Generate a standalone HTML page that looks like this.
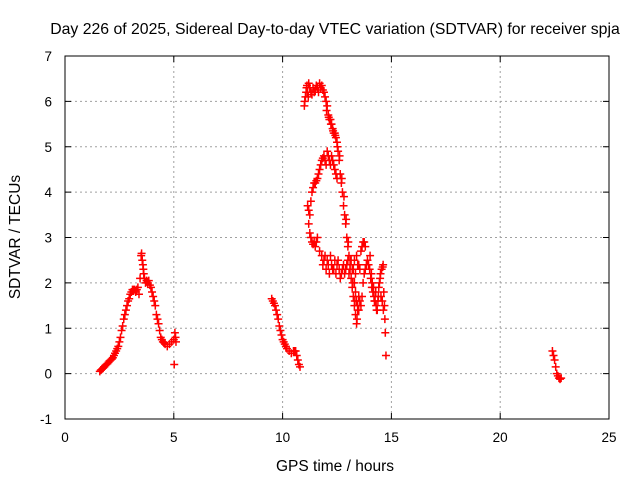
<!DOCTYPE html>
<html><head><meta charset="utf-8"><style>
body{margin:0;background:#fff}
svg{display:block;font-family:"Liberation Sans",sans-serif}
</style></head><body>
<svg id="chart" width="640" height="480" viewBox="0 0 640 480">
<text x="335" y="34" font-size="15.8" text-anchor="middle">Day 226 of 2025, Sidereal Day-to-day VTEC variation (SDTVAR) for receiver spja</text>
<text x="335" y="471" font-size="15.5" text-anchor="middle">GPS time / hours</text>
<text transform="translate(20,237) rotate(-90)" font-size="15.5" text-anchor="middle">SDTVAR / TECUs</text>
<g id="grid"></g><g id="marks"></g>
<rect x="65" y="56" width="544" height="363" fill="none" stroke="#000" stroke-width="1"/>
</svg>
<script>
const xTicks=[0,5,10,15,20,25];
const yTicks=[-1,0,1,2,3,4,5,6,7];
const s1x=[1.6,1.65,1.7,1.75,1.8,1.85,1.9,1.95,2.0,2.05,2.1,2.15,2.2,2.25,2.3,2.35,2.4,2.45,2.5,2.55,2.6,2.65,2.7,2.75,2.8,2.85,2.9,2.95,3.0,3.05,3.1,3.15,3.2,3.25,3.3,3.35,3.4,3.45,3.5,3.52,3.55,3.58,3.6,3.62,3.65,3.7,3.75,3.8,3.85,3.9,3.95,4.0,4.05,4.1,4.15,4.2,4.25,4.3,4.35,4.4,4.45,4.5,4.55,4.6,4.7,4.8,4.9,5.0,5.02,5.05,5.08,5.1];
const s1y=[0.05,0.08,0.1,0.12,0.15,0.18,0.2,0.22,0.25,0.28,0.3,0.32,0.35,0.4,0.45,0.5,0.55,0.6,0.7,0.8,0.95,1.05,1.2,1.3,1.4,1.5,1.6,1.65,1.75,1.8,1.85,1.85,1.85,1.8,1.85,1.9,1.75,2.1,2.6,2.65,2.5,2.4,2.3,2.2,2.1,2.0,2.05,2.0,2.05,1.95,1.9,1.8,1.7,1.6,1.5,1.3,1.2,1.1,0.95,0.8,0.75,0.7,0.68,0.65,0.6,0.65,0.7,0.75,0.2,0.9,0.8,0.7];
const s2x=[9.5,9.55,9.6,9.65,9.7,9.75,9.8,9.85,9.9,9.95,10.0,10.05,10.1,10.15,10.2,10.3,10.4,10.5,10.55,10.6,10.65,10.7,10.75,10.8];
const s2y=[1.65,1.6,1.55,1.5,1.4,1.3,1.2,1.05,0.95,0.85,0.75,0.7,0.65,0.6,0.55,0.5,0.45,0.5,0.5,0.5,0.4,0.3,0.2,0.15];
const s3x=[11.0,11.05,11.1,11.15,11.2,11.3,11.4,11.5,11.6,11.7,11.8,11.9,12.0,12.05,12.1,12.15,12.2,12.25,12.3,12.35,12.4,12.45,12.5,12.55,12.6,12.65,12.7,12.75,12.8,12.85,12.9,12.95,13.0,13.05,13.1,13.15,13.2,13.25,13.3,13.35,13.4,13.45,13.5];
const s3y=[5.9,6.1,6.3,6.2,6.4,6.2,6.3,6.25,6.3,6.4,6.35,6.2,6.0,5.9,5.7,5.6,5.6,5.5,5.4,5.3,5.3,5.2,5.1,4.9,4.7,4.4,4.2,4.0,3.7,3.5,3.3,3.0,2.8,2.6,2.3,2.1,1.9,1.7,1.5,1.3,1.1,1.4,1.7];
const s3bx=[11.02,11.08,11.12,11.18,11.25,11.35,11.45,11.55,11.65,11.75,11.85,11.95,12.02,12.12,12.22,12.32,12.42,12.52,12.62,12.72,12.82,12.92,13.02,13.12,13.22,13.32,13.42];
const s3by=[6.0,6.2,6.35,6.1,6.3,6.15,6.2,6.35,6.2,6.3,6.25,6.1,5.8,5.65,5.5,5.35,5.25,5.0,4.8,4.3,3.9,3.4,2.9,2.5,2.0,1.6,1.2];
const s4x=[11.15,11.2,11.25,11.3,11.35,11.4,11.45,11.5,11.55,11.6,11.65,11.7,11.75,11.8,11.85,11.9,11.95,12.0,12.05,12.1,12.15,12.2,12.25,12.3,12.35,12.4,12.45,12.5];
const s4y=[3.7,3.6,3.5,3.8,4.0,4.1,4.2,4.2,4.25,4.3,4.4,4.5,4.6,4.7,4.75,4.8,4.7,4.6,4.9,4.8,4.7,4.6,4.8,4.7,4.6,4.5,4.4,4.3];
const s5x=[11.2,11.25,11.3,11.35,11.4,11.45,11.5,11.55,11.6,11.7,11.8,11.9,12.0,12.1,12.2,12.3,12.4,12.5,12.6,12.7,12.8,12.9,13.0,13.1,13.2,13.3,13.4,13.5,13.6,13.65,13.7,13.75,13.8];
const s5y=[3.3,3.1,3.0,2.9,2.85,2.9,2.8,2.9,3.0,2.7,2.6,2.5,2.3,2.4,2.6,2.3,2.5,2.4,2.3,2.2,2.4,2.3,2.5,2.4,2.3,2.5,2.6,2.4,2.7,2.8,2.9,2.9,2.8];
const s5bx=[11.85,11.95,12.05,12.15,12.25,12.35,12.45,12.55,12.65,12.75,12.85,12.95,13.05,13.15,13.25,13.35,13.45,13.55];
const s5by=[2.4,2.6,2.5,2.2,2.4,2.3,2.2,2.5,2.1,2.3,2.2,2.4,2.2,2.5,2.3,2.2,2.4,2.3];
const s6x=[13.3,13.35,13.4,13.45,13.5,13.55,13.6,13.65,13.7,13.75,13.8,13.85,13.9,13.95,14.0,14.05,14.1,14.15,14.2,14.25,14.3,14.35,14.4,14.45,14.5,14.55,14.6,14.62,14.65,14.68,14.7,14.72,14.75];
const s6y=[2.0,1.8,1.6,1.5,1.4,1.6,1.5,1.7,2.0,2.2,2.3,2.4,2.5,2.4,2.3,2.1,1.9,1.8,1.7,1.6,1.5,1.4,1.7,2.0,2.2,2.3,2.35,2.4,1.8,1.5,1.2,0.9,0.4];
const s6bx=[14.02,14.08,14.12,14.18,14.22,14.28,14.32,14.38,14.42,14.48,14.52,14.58,14.63];
const s6by=[2.6,2.2,2.0,1.9,1.6,1.8,1.4,1.6,1.9,2.1,1.7,1.6,1.4];
const s7x=[22.4,22.45,22.5,22.55,22.6,22.65,22.7,22.75,22.8];
const s7y=[0.5,0.4,0.3,0.15,0.0,-0.05,-0.1,-0.12,-0.1];
const seriesX=[s1x,s2x,s3x,s3bx,s4x,s5x,s5bx,s6x,s6bx,s7x];
const seriesY=[s1y,s2y,s3y,s3by,s4y,s5y,s5by,s6y,s6by,s7y];
const L=65,R=609,T=56,B=419;
const sx=v=>L+(v-0)/(25-0)*(R-L);
const sy=v=>B-(v+1)/(7+1)*(B-T);
const NS="http://www.w3.org/2000/svg";
const grid=document.getElementById('grid'),marks=document.getElementById('marks');
function mk(tag,a,p){const e=document.createElementNS(NS,tag);for(const k in a)e.setAttribute(k,a[k]);p.appendChild(e);return e;}
xTicks.forEach(t=>{const x=sx(t);
 if(t>0&&t<25){const g=mk('line',{x1:x,x2:x,y1:T,y2:B,stroke:'#a0a0a0','stroke-dasharray':'2,3'},grid);
 
 }
 mk('line',{x1:x,x2:x,y1:B,y2:B-6,stroke:'#000'},grid);mk('line',{x1:x,x2:x,y1:T,y2:T+6,stroke:'#000'},grid);
 const tx=mk('text',{x:x,y:B+23,'font-size':13.5,'text-anchor':'middle'},grid);tx.textContent=t;
 
 });
yTicks.forEach(t=>{const y=sy(t);
 if(t>-1&&t<7){const g=mk('line',{x1:L,x2:R,y1:y,y2:y,stroke:'#a0a0a0','stroke-dasharray':'2,3'},grid);
 
 }
 mk('line',{x1:L,x2:L+6,y1:y,y2:y,stroke:'#000'},grid);mk('line',{x1:R,x2:R-6,y1:y,y2:y,stroke:'#000'},grid);
 const tx=mk('text',{x:52,y:y+5,'font-size':13.5,'text-anchor':'end'},grid);tx.textContent=t;
 
 });
seriesX.forEach((xs,i)=>{const ys=seriesY[i];xs.forEach((v,j)=>{const x=sx(v),y=sy(ys[j]);
 const p=mk('path',{d:`M${x-4},${y}H${x+4}M${x},${y-4}V${y+4}`,stroke:'#f00','stroke-width':1.5,fill:'none'},marks);
 
 });});
</script>
</body></html>
